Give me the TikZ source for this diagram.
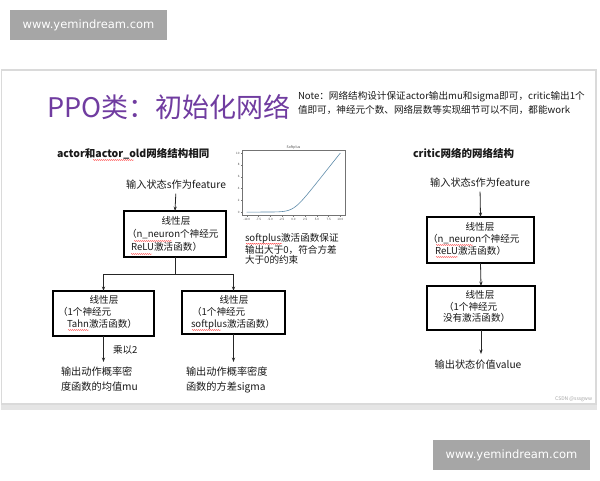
\documentclass[tikz,border=0pt]{standalone}
\usepackage{fontspec}
\setmainfont{Noto Sans CJK SC}
\newfontfamily\wmfont{DejaVu Sans}
\usetikzlibrary{arrows.meta,decorations.pathmorphing}
\definecolor{titlepurple}{RGB}{112,60,160}
\definecolor{txtc}{RGB}{25,25,25}
\definecolor{wmgray}{RGB}{166,166,166}
\definecolor{slideborder}{RGB}{218,218,218}
\definecolor{curvec}{RGB}{95,140,170}
\begin{document}
\begin{tikzpicture}[x=1pt,y=-1pt,
  every node/.style={inner sep=0pt, outer sep=0pt, text=txtc},
  t10/.style={font=\fontsize{10.2}{12}\selectfont},
  t95/.style={font=\fontsize{9.6}{10}\selectfont},
  hdr/.style={font=\fontsize{10.5}{12}\selectfont\bfseries},
  layerbox/.style={draw=black, line width=1.1pt},
  arr/.style={-{Stealth[length=4.5pt,width=3.2pt]}, line width=0.8pt, draw=black!85},
  conn/.style={line width=0.8pt, draw=black!85},
  wm/.style={fill=wmgray, text=white, font=\wmfont\fontsize{11.5}{13}\selectfont, minimum width=157pt, minimum height=30pt},
  squig/.style={draw=red!75, line width=0.35pt, decorate, decoration={snake, segment length=2pt, amplitude=0.6pt}},
  tick/.style={font=\fontsize{3}{3}\selectfont, text=black!70},
]
\useasboundingbox (0,0) rectangle (600,480);
\fill[white] (0,0) rectangle (600,480);
% watermarks
\node[wm] (wmtop) at (88.5,25) {www.yemindream.com};
\node[wm] (wmbot) at (511.5,455) {www.yemindream.com};
% slide
\fill[black!10] (1,403) rectangle (597,410);
\draw[slideborder, line width=1.5pt, fill=white] (1.5,70) rectangle (596,404);
% title and note
\node[anchor=west, text=titlepurple, font=\fontsize{27}{30}\selectfont] (title) at (47,107) {PPO类：初始化网络};
\node[anchor=west, t95] (note1) at (298,97) {Note：网络结构设计保证actor输出mu和sigma即可，critic输出1个};
\node[anchor=west, t95] (note2) at (298,110) {值即可，神经元个数、网络层数等实现细节可以不同，都能work};
% headers
\node[anchor=west, hdr] (hleft) at (57,154) {actor和actor\_old网络结构相同};
\node[anchor=west, hdr] (hright) at (413,153) {critic网络的网络结构};
% ---- left (actor) ----
\node[t10] (in1) at (176,185) {输入状态s作为feature};
\node[layerbox, minimum width=102pt, minimum height=46pt] (b1) at (175,234) {};
\node[t95] (b1a) at (176,221) {线性层};
\node[t95, anchor=west] (b1b) at (127,234) {（n\_neuron个神经元};
\node[t95, anchor=west] (b1c) at (131,247) {ReLU激活函数）};
\node[layerbox, minimum width=101pt, minimum height=45pt] (b2) at (103.5,313.5) {};
\node[t95] (b2a) at (104,300) {线性层};
\node[t95, anchor=west] (b2b) at (58,312) {（1个神经元};
\node[t95, anchor=west] (b2c) at (67,324) {Tahn激活函数）};
\node[layerbox, minimum width=103pt, minimum height=43pt] (b3) at (233.5,312.5) {};
\node[t95] (b3a) at (234,300) {线性层};
\node[t95, anchor=west] (b3b) at (192,312) {（1个神经元};
\node[t95, anchor=west] (b3c) at (191,324) {softplus激活函数）};
\coordinate (split) at (b1.south |- 0,274);
\draw[conn] (b1.south) -- (split);
\draw[arr] (split) -| (b2.north);
\draw[arr] (split) -| (b3.north);
\draw[arr, shorten <=4pt] (in1.south) -- (b1.north);
\coordinate (o2) at (b2.south |- 0,362);
\coordinate (o3) at (b3.south |- 0,362);
\draw[arr] (b2.south) -- (o2);
\draw[arr] (b3.south) -- (o3);
\node[t95, anchor=west] (mul) at (113,350) {乘以2};
\node[t10, anchor=west] (outl1) at (61,372) {输出动作概率密};
\node[t10, anchor=west] (outl2) at (61,387) {度函数的均值mu};
\node[t10, anchor=west] (outr1) at (186,372) {输出动作概率密度};
\node[t10, anchor=west] (outr2) at (186,387) {函数的方差sigma};
% ---- softplus chart ----
\draw[black!55, line width=0.3pt] (242,150) rectangle (345,215);
\node[font=\fontsize{3.5}{4}\selectfont, text=black!70] (ctitle) at (293.5,147) {Softplus};
\foreach \v/\l in {-10/-10.0,-7.5/-7.5,-5/-5.0,-2.5/-2.5,0/0.0,2.5/2.5,5/5.0,7.5/7.5,10/10.0}{
  \draw[black!55, line width=0.25pt] ({293.5+4.68*\v},215) -- ({293.5+4.68*\v},216.5);
  \node[tick] at ({293.5+4.68*\v},219) {\l};
}
\foreach \v in {0,2,4,6,8,10}{
  \draw[black!55, line width=0.25pt] (242,{212.05-5.9*\v}) -- (240.5,{212.05-5.9*\v});
  \node[tick, anchor=east] at (239.5,{212.05-5.9*\v}) {\v};
}
\draw[curvec, line width=0.6pt] plot[domain=-10:10, samples=80, smooth]
  ({293.5+4.68*\x}, {212.05-5.9*(max(\x,0)+ln(1+exp(-abs(\x))))});
\node[t95, anchor=west] (cap1) at (245,239) {softplus激活函数保证};
\node[t95, anchor=west] (cap2) at (245,249.5) {输出大于0，符合方差};
\node[t95, anchor=west] (cap3) at (245,260) {大于0的约束};
% ---- right (critic) ----
\node[t10] (in2) at (480,183) {输入状态s作为feature};
\node[layerbox, minimum width=107pt, minimum height=46pt] (c1) at (480.5,240) {};
\node[t95] (c1a) at (480,227) {线性层};
\node[t95, anchor=west] (c1b) at (428,239) {（n\_neuron个神经元};
\node[t95, anchor=west] (c1c) at (435,251) {ReLU激活函数）};
\node[layerbox, minimum width=108pt, minimum height=44pt] (c2) at (481,308) {};
\node[t95] (c2a) at (480,295) {线性层};
\node[t95, anchor=west] (c2b) at (444,307) {（1个神经元};
\node[t95, anchor=west] (c2c) at (443,318) {没有激活函数）};
\coordinate (o4) at (c2.south |- 0,354);
\draw[arr, shorten <=4pt] (in2.south) -- (c1.north);
\draw[arr] (c1.south) -- (c2.north);
\draw[arr] (c2.south) -- (o4);
\node[t10] (outc) at (478,365) {输出状态价值value};
\node[font=\fontsize{5}{6}\selectfont, text=black!35, anchor=east] (csdn) at (592,399) {CSDN @sssgww};
% spell-check squiggles
\draw[squig] (93,160) -- (134,160);
\draw[squig] (134,241) -- (172,241);
\draw[squig] (131,254) -- (152,254);
\draw[squig] (68,330) -- (89,330);
\draw[squig] (192,330) -- (221,330);
\draw[squig] (246,243.8) -- (282,243.8);
\draw[squig] (436,245) -- (473,245);
\draw[squig] (436,257) -- (458,257);
\end{tikzpicture}
\end{document}
